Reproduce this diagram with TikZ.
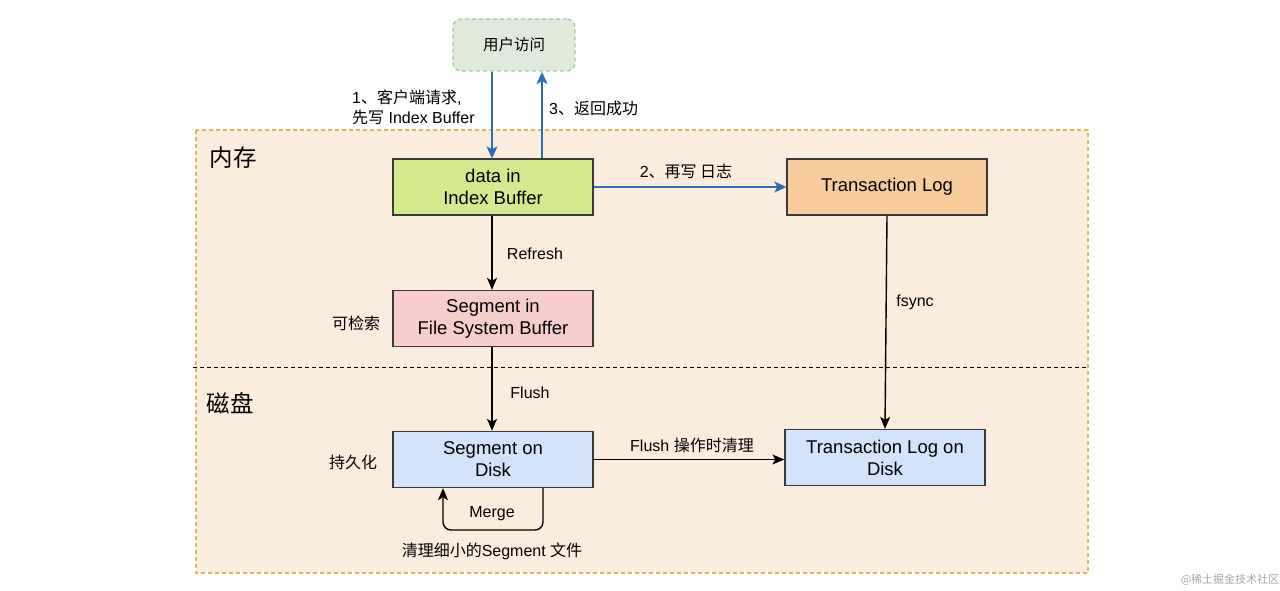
\documentclass[tikz,border=0pt]{standalone}
\usepackage{fontspec}
\setmainfont{Liberation Sans}
\newfontfamily\cjk{Noto Sans CJK SC}
\usetikzlibrary{arrows.meta}
\definecolor{bgfill}{HTML}{FBEDDD}
\definecolor{bgline}{HTML}{D9B95E}
\definecolor{userfill}{HTML}{E0EADB}
\definecolor{userline}{HTML}{A8C39E}
\definecolor{greenfill}{HTML}{D5EA8F}
\definecolor{pinkfill}{HTML}{F8CECC}
\definecolor{bluefill}{HTML}{D2E3FB}
\definecolor{orangefill}{HTML}{F8CC9C}
\definecolor{boxline}{HTML}{3A3A3A}
\definecolor{bluearrow}{HTML}{2F6DB3}
\tikzset{
  boxnode/.style={draw=boxline, line width=1.3pt, minimum width=200pt, minimum height=56pt, align=center, font=\fontsize{18.5}{22}\selectfont, inner sep=0pt},
  lbl/.style={font=\fontsize{16}{20}\selectfont, inner sep=0pt, align=left},
  big/.style={font=\fontsize{23.5}{27}\selectfont, inner sep=0pt},
  blackarrow/.style={draw=black, line width=1.4pt, -{Stealth[length=12pt,width=10pt,inset=3pt]}},
  bluearr/.style={draw=bluearrow, line width=2.4pt, -{Stealth[length=12pt,width=11pt,inset=3pt]}},
}
\begin{document}
\begin{tikzpicture}[x=1pt,y=-1pt]
\useasboundingbox (0,0) rectangle (1280,591);
% background region
\draw[fill=bgfill, draw=bgline, dashed, dash pattern=on 4pt off 3pt, line width=1.2pt] (196,130) rectangle (1088,573);
\draw[black, dashed, dash pattern=on 4pt off 3pt, line width=1pt] (193,367) -- (1088,367);
\node[big] (mem) at (233,158) {\cjk 内存};
\node[big] (disk) at (230,403) {\cjk 磁盘};
% nodes
\node[draw=userline, fill=userfill, dashed, dash pattern=on 4pt off 3pt, line width=1.2pt, rounded corners=8pt, minimum width=122pt, minimum height=52pt, font=\fontsize{15.5}{19}\selectfont] (user) at (514,45) {\cjk 用户访问};
\node[boxnode, fill=greenfill] (buf) at (493,187) {data in\\Index Buffer};
\node[boxnode, fill=pinkfill] (fsb) at (493,318.5) {Segment in\\File System Buffer};
\node[boxnode, fill=bluefill] (sod) at (493,459.5) {Segment on\\Disk};
\node[boxnode, fill=orangefill] (tl) at (887,187) {Transaction Log};
\node[boxnode, fill=bluefill] (tld) at (885,457.5) {Transaction Log on\\Disk};
% coordinates
\coordinate (ua) at (492,72);
\coordinate (ub) at (542,72);
\coordinate (m1) at (543,530);
\coordinate (m2) at (443,530);
% arrows
\draw[bluearr] (ua) -- (buf.north -| ua);
\draw[bluearr] (buf.north -| ub) -- (ub);
\draw[bluearr] (buf.east) -- (tl.west);
\draw[blackarrow] (buf.south -| ua) -- (fsb.north -| ua);
\draw[blackarrow] (fsb.south -| ua) -- (sod.north -| ua);
\draw[blackarrow] (tl.south) -- (tld.north);
\draw[blackarrow] (sod.east) -- (tld.west |- sod.east);
\draw[blackarrow, rounded corners=8pt] (sod.south -| m1) -- (m1) -- (m2) -- (sod.south -| m2);
% labels
\node[lbl, anchor=west] (l1) at (352,107) {1{\cjk 、客户端请求},\\{\cjk 先写} Index Buffer};
\node[lbl, anchor=west] (l3) at (549,108) {3{\cjk 、返回成功}};
\node[lbl] (l2) at (686,171) {2{\cjk 、再写 日志}};
\node[lbl] (lr) at (535,254) {Refresh};
\node[lbl] (lf) at (530,393) {Flush};
\node[lbl] (ls) at (915,302) {fsync};
\node[lbl] (lft) at (692,445) {Flush {\cjk 操作时清理}};
\node[lbl] (lm) at (492,514) {Merge};
\node[lbl] (lk) at (356,323) {\cjk 可检索};
\node[lbl] (lp) at (353,462) {\cjk 持久化};
\node[lbl] (lc) at (492,551) {{\cjk 清理细小的}Segment {\cjk 文件}};
\node[font=\fontsize{11}{13}\selectfont, text=black!35, inner sep=0pt] (wm) at (1230,580) {\cjk @稀土掘金技术社区};
\end{tikzpicture}
\end{document}
